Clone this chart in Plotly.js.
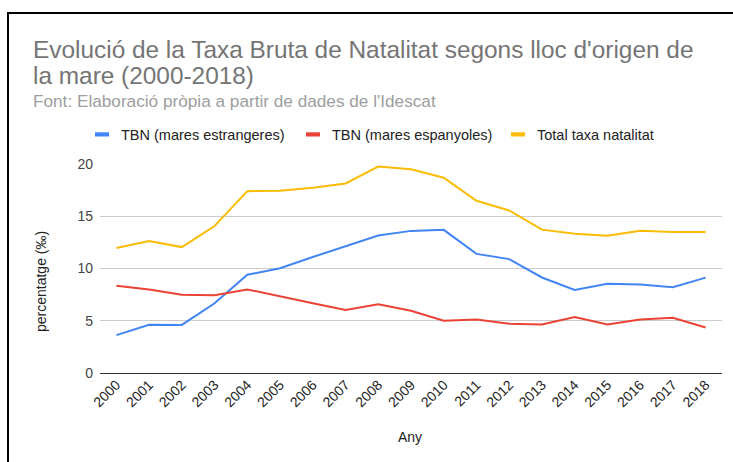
<!DOCTYPE html>
<html><head><meta charset="utf-8">
<script src="https://cdn.plot.ly/plotly-3.0.1.min.js"></script>
<style>
html,body{margin:0;padding:0;background:#fff;}
#wrap{position:relative;width:733px;height:462px;overflow:hidden;}
#chart{width:733px;height:462px;}
#frame{position:absolute;left:7px;top:12px;width:760px;height:480px;border-left:2px solid #000;border-top:2px solid #000;pointer-events:none;}
</style></head>
<body><div id="wrap"><div id="chart"></div><div id="frame"></div></div>
<script>
const years = ["2000","2001","2002","2003","2004","2005","2006","2007","2008","2009","2010","2011","2012","2013","2014","2015","2016","2017","2018"];
const tbnEstrangeres = [3.62,4.62,4.6,6.67,9.4,10.03,11.1,12.1,13.15,13.6,13.7,11.4,10.9,9.14,7.95,8.53,8.46,8.2,9.13];
const tbnEspanyoles = [8.34,7.98,7.5,7.44,8.0,7.37,6.67,6.03,6.57,5.96,5.0,5.13,4.71,4.65,5.36,4.65,5.13,5.29,4.36];
const totalTaxa = [11.96,12.63,12.05,14.07,17.4,17.43,17.73,18.14,19.75,19.49,18.69,16.48,15.55,13.72,13.33,13.14,13.62,13.5,13.5];
const seriesNames = ["TBN (mares estrangeres)","TBN (mares espanyoles)","Total taxa natalitat"];
const colors = ["#4285F4","#EA4335","#FBBC04"];
const yTicks = [0,5,10,15,20];

const L=100, R=722, T=164, B=373;
const px = x => (x-L)/(R-L);
const py = y => (B-y)/(B-T);

const data = [tbnEstrangeres, tbnEspanyoles, totalTaxa].map((v,i)=>({
  x: years, y: v, type:'scatter', mode:'lines', name: seriesNames[i],
  line:{color:colors[i], width:2}, showlegend:false, hoverinfo:'x+y'
}));

const font = '"Liberation Sans", Arial, sans-serif';
const annotations = [
  {text:"Evolució de la Taxa Bruta de Natalitat segons lloc d'origen de", xref:'paper', yref:'paper', x:px(31), y:py(49.5), xanchor:'left', yanchor:'middle', align:'left', showarrow:false, font:{family:font, size:24.4, color:'#757575'}},
  {text:"la mare (2000-2018)", xref:'paper', yref:'paper', x:px(31), y:py(75.5), xanchor:'left', yanchor:'middle', align:'left', showarrow:false, font:{family:font, size:24.4, color:'#757575'}},
  {text:"Font: Elaboració pròpia a partir de dades de l'Idescat", xref:'paper', yref:'paper', x:px(31), y:py(100.5), xanchor:'left', yanchor:'middle', align:'left', showarrow:false, font:{family:font, size:17.2, color:'#9e9e9e'}},
  {text:"percentatge (‰)", xref:'paper', yref:'paper', x:px(41), y:py(282), textangle:-90, xanchor:'center', yanchor:'middle', showarrow:false, font:{family:font, size:14, color:'#222'}},
  {text:"Any", xref:'paper', yref:'paper', x:px(410), y:py(436.8), xanchor:'center', yanchor:'middle', showarrow:false, font:{family:font, size:14, color:'#222'}}
];
const legendX = [[95,119],[306,330],[511,535]];
const shapes = [];
seriesNames.forEach((n,i)=>{
  shapes.push({type:'rect', xref:'paper', yref:'paper', x0:px(legendX[i][0]), x1:px(legendX[i][0]+14), y0:py(136.5), y1:py(132.3), fillcolor:colors[i], line:{width:0}});
  annotations.push({text:n, xref:'paper', yref:'paper', x:px(legendX[i][1]), y:py(135), xanchor:'left', yanchor:'middle', showarrow:false, font:{family:font, size:14.5, color:'#222'}});
});

const layout = {
  width:733, height:462,
  margin:{l:L, r:733-R, t:T, b:462-B, pad:0},
  paper_bgcolor:'#fff', plot_bgcolor:'#fff',
  showlegend:false,
  xaxis:{type:'category', range:[-0.5,18.5], tickangle:-45, showgrid:false, zeroline:false, showline:false, ticks:'', tickfont:{family:font, size:14, color:'#222'}, fixedrange:true},
  yaxis:{range:[0,20], tickvals:yTicks, ticktext:yTicks.map(String), showgrid:true, gridcolor:'#cccccc', gridwidth:1, zeroline:true, zerolinecolor:'#333', zerolinewidth:1, showline:false, ticks:'', ticklabelstandoff:6, tickfont:{family:font, size:14, color:'#444'}, fixedrange:true},
  annotations, shapes
};
Plotly.newPlot('chart', data, layout, {displayModeBar:false, staticPlot:true});
</script></body></html>
